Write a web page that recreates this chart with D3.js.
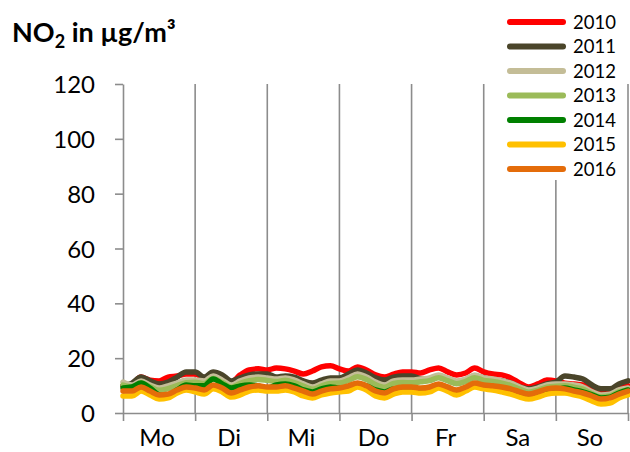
<!DOCTYPE html>
<html><head><meta charset="utf-8">
<script src="https://cdn.jsdelivr.net/npm/d3@7"></script>
<style>html,body{margin:0;padding:0;background:#fff;} svg{display:block;font-family:Lato,"Open Sans",sans-serif;}</style>
</head><body>
<svg id="c" width="630" height="452"></svg>
<script>
const days = ["Mo","Di","Mi","Do","Fr","Sa","So"];
const yTicks = [0,20,40,60,80,100,120];
const years = ["2010","2011","2012","2013","2014","2015","2016"];
const colors = ["#FF0000","#4A452A","#C4BD97","#9BBB59","#008000","#FFC000","#E46C0A"];

// 3-hourly mean values over the week (57 points, Mo 0h .. So 24h)
const s2010 = [9.9,10.6,13.1,12.0,11.7,13.1,13.5,14.2,14.2, 12.8,14.2,13.5,11.3,13.9,15.7,16.1,15.7, 16.4,16.1,15.3,14.2,15.3,16.8,17.2,16.1, 15.3,16.8,15.7,13.9,13.1,14.2,15.0,15.0, 14.6,15.7,16.4,15.0,13.9,14.6,16.4,15.0, 14.2,13.9,12.8,10.9,9.5,10.6,12.0,11.7, 10.9,10.6,10.2,8.4,7.3,7.7,9.1,9.9];
const s2011 = [9.9,10.9,13.1,11.7,10.6,11.3,13.1,15.0,15.0, 13.1,15.0,13.9,11.7,12.8,13.9,14.2,14.2, 13.1,13.5,13.1,11.7,10.9,12.0,12.8,12.8, 14.2,15.7,14.6,12.8,12.0,13.1,13.5,13.5, 12.4,12.0,13.1,12.0,10.9,12.0,13.5,12.8, 12.0,11.7,10.9,9.5,8.8,9.5,10.6,11.3, 13.5,13.1,12.4,10.2,8.8,8.8,10.6,11.7];
const s2012 = [11.3,10.2,11.7,10.2,9.1,9.9,10.9,12.0,12.0, 11.7,13.5,12.0,10.2,11.7,12.8,13.1,12.8, 12.4,12.8,12.0,10.6,9.5,10.6,11.7,11.7, 12.8,14.2,13.1,11.3,10.2,11.7,12.0,12.0, 12.4,12.8,13.9,12.8,11.7,12.4,13.9,12.8, 12.4,11.7,10.9,9.5,8.4,9.1,10.2,10.6, 10.6,10.2,9.5,7.7,6.6,6.9,8.4,9.1];
const s2013 = [10.2,9.5,11.0,9.6,8.3,8.9,10.0,11.0,11.2, 10.8,12.6,11.1,9.4,10.8,11.8,12.2,11.9, 11.5,11.9,11.1,9.8,8.7,9.8,10.8,10.9, 11.9,13.2,12.2,10.4,9.4,10.8,11.1,11.0, 11.4,11.8,12.9,11.8,10.7,11.5,12.9,11.9, 11.5,10.9,10.0,8.7,7.6,8.3,9.4,9.8, 9.9,9.4,8.7,7.0,5.9,6.2,7.7,8.5];
const s2014 = [9.1,9.5,10.9,9.1,6.6,6.2,8.4,10.2,9.9, 9.9,12.4,10.6,9.1,9.9,10.2,9.9,9.1, 10.2,10.6,9.9,8.4,7.7,8.8,9.5,9.1, 9.5,10.6,9.9,8.4,7.7,8.8,9.1,8.8, 8.4,8.8,9.9,8.8,7.7,8.8,10.2,9.5, 9.5,8.8,8.0,6.9,6.2,6.9,8.0,8.4, 9.1,8.4,7.7,6.6,5.5,5.8,7.3,8.4];
const s2015 = [6.2,6.2,8.0,6.6,5.1,5.5,7.3,8.4,7.7, 6.9,8.8,7.7,5.8,6.6,8.0,8.4,8.0, 8.0,8.4,7.7,6.2,5.5,6.6,7.3,7.7, 8.0,9.5,8.4,6.2,5.5,6.9,7.7,7.7, 7.3,7.7,9.1,8.0,6.6,8.0,9.5,8.8, 8.4,7.7,6.9,5.8,5.1,5.8,6.9,7.3, 7.3,6.6,5.8,4.4,3.3,3.6,5.5,6.6];
const s2016 = [8.0,8.0,9.5,8.0,6.6,6.9,8.4,9.5,9.1, 8.4,10.2,9.1,7.3,8.4,9.5,9.9,9.5, 9.5,9.9,9.1,8.0,6.9,8.0,8.8,9.1, 9.9,10.9,9.9,8.0,7.3,8.8,9.5,9.5, 9.1,9.5,10.6,9.5,8.4,9.5,10.9,10.2, 9.9,9.5,8.8,7.7,6.9,7.7,8.8,9.1, 8.8,8.0,7.3,6.2,5.1,5.5,6.9,8.0];
const seriesValues = [s2010,s2011,s2012,s2013,s2014,s2015,s2016];

const svg = d3.select("#c");
const axisColor = "#8C8C8C";
const plotLeft = 123, plotRight = 628, plotTop = 84, plotBottom = 413;
const nPts = s2010.length;

const x = d3.scaleLinear().domain([0, nPts - 1]).range([plotLeft, plotRight]);
const xDay = d3.scaleLinear().domain([0, days.length]).range([plotLeft, plotRight]);
const y = d3.scaleLinear().domain([0, 120]).range([plotBottom, plotTop]);

// day separators
svg.append("g").selectAll("line").data(d3.range(1, days.length + 1)).join("line")
  .attr("x1", d => xDay(d)).attr("x2", d => xDay(d))
  .attr("y1", y(120)).attr("y2", y(0))
  .attr("stroke", axisColor).attr("stroke-width", 1.6);

// y axis
const yAxis = d3.axisLeft(y).tickValues(yTicks).tickSize(8).tickSizeOuter(0);
const gy = svg.append("g").attr("transform", `translate(${plotLeft},0)`).call(yAxis);
gy.select(".domain").attr("stroke", axisColor).attr("stroke-width", 1.6);
gy.selectAll(".tick line").attr("stroke", axisColor).attr("stroke-width", 1.6);
gy.selectAll(".tick text").attr("fill", "#000").attr("font-size", 24)
  .attr("font-family", "Lato, sans-serif").attr("x", -28).attr("dy", "0.36em");

// x axis
const xAxis = d3.axisBottom(xDay).tickValues(d3.range(0, days.length + 1)).tickSize(8).tickFormat("").tickSizeOuter(0);
const gx = svg.append("g").attr("transform", `translate(0,${plotBottom})`).call(xAxis);
gx.select(".domain").attr("stroke", axisColor).attr("stroke-width", 1.6);
gx.selectAll(".tick line").attr("stroke", axisColor).attr("stroke-width", 1.6);
svg.append("g").selectAll("text").data(days).join("text")
  .attr("x", (d, i) => xDay(i + 0.5) - 2).attr("y", 446)
  .attr("text-anchor", "middle").attr("font-size", 24).attr("fill", "#000")
  .text(d => d);

// lines
const line = d3.line().x((d, i) => x(i)).y(d => y(d)).curve(d3.curveMonotoneX);
svg.append("g").selectAll("path").data(seriesValues).join("path")
  .attr("d", d => line(d)).attr("fill", "none")
  .attr("stroke", (d, i) => colors[i]).attr("stroke-width", 5.5)
  .attr("stroke-linejoin", "round").attr("stroke-linecap", "round");

// legend
const lg = svg.append("g");
lg.append("rect").attr("x", 498).attr("y", 0).attr("width", 124).attr("height", 180).attr("fill", "#fff");
const li = lg.selectAll("g").data(years).join("g")
  .attr("transform", (d, i) => `translate(0,${22 + i * 24.5})`);
li.append("line").attr("x1", 510).attr("x2", 563).attr("y1", 0).attr("y2", 0)
  .attr("stroke", (d, i) => colors[i]).attr("stroke-width", 6).attr("stroke-linecap", "round");
li.append("text").attr("x", 573).attr("y", 0).attr("dy", "0.36em")
  .attr("font-size", 18.5).attr("fill", "#000").text(d => d);

// title
const t = svg.append("text").attr("x", 12).attr("y", 42).attr("font-size", 27)
  .attr("font-weight", "bold").attr("fill", "#000");
t.append("tspan").text("NO");
t.append("tspan").attr("font-size", 18).attr("dy", 6).text("2");
t.append("tspan").attr("dy", -6).text(" in µg/m³");
</script>
</body></html>
